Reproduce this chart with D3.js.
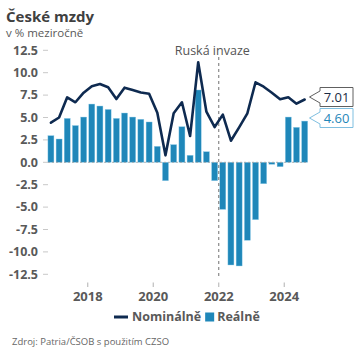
<!DOCTYPE html>
<html><head><meta charset="utf-8">
<script src="https://cdn.jsdelivr.net/npm/d3@7"></script>
<style>
body{margin:0;background:#fff;}
svg{display:block;font-family:"Open Sans",sans-serif;}
</style></head>
<body><svg id="c" width="360" height="360"></svg>
<script>
const quarters = ["2016Q4","2017Q1","2017Q2","2017Q3","2017Q4","2018Q1","2018Q2","2018Q3","2018Q4",
"2019Q1","2019Q2","2019Q3","2019Q4","2020Q1","2020Q2","2020Q3","2020Q4","2021Q1","2021Q2","2021Q3","2021Q4",
"2022Q1","2022Q2","2022Q3","2022Q4","2023Q1","2023Q2","2023Q3","2023Q4","2024Q1","2024Q2","2024Q3"];
const nominal = [4.42,5.0,7.25,6.7,7.77,8.5,8.74,8.37,7.06,8.33,8.07,7.8,7.66,5.54,0.78,5.47,6.7,2.93,11.16,5.65,3.93,
5.32,2.41,3.9,5.47,8.93,8.44,7.77,7.03,7.25,6.54,7.01];
const real = [2.97,2.6,4.9,4.1,5.05,6.5,6.28,5.9,4.9,5.5,5.05,4.8,4.5,1.78,-2.05,1.97,3.97,0.78,8.07,1.18,-2.05,
-5.25,-11.46,-11.57,-8.7,-6.4,-2.39,-0.22,-0.49,5.05,3.9,4.60];
const yTicks = [-12.5,-10,-7.5,-5,-2.5,0,2.5,5,7.5,10,12.5];
const xTickYears = [2018,2020,2022,2024];
const eventDate = "2022-01-01";
const eventLabel = "Ruská invaze";
const title = "České mzdy";
const subtitle = "v % meziročně";
const source = "Zdroj: Patria/ČSOB s použitím CZSO";
const seriesNames = ["Nominálně","Reálně"];

const cNom = "#0e2a50", cReal = "#1f87b9";
const svg = d3.select("#c");

function qMid(q){
  const y=+q.slice(0,4), n=+q.slice(5);
  const s=new Date(y,(n-1)*3,1), e=new Date(y,n*3,1);
  return new Date((s.getTime()+e.getTime())/2);
}
const data = quarters.map((q,i)=>({d:qMid(q),nom:nominal[i],real:real[i]}));

const x = d3.scaleTime().domain([new Date(2016,9,1),new Date(2024,9,1)]).range([46.8,308.8]);
const y = d3.scaleLinear().domain([-12.5,12.5]).range([274.3,50.3]);

// title
svg.append("text").attr("x",6).attr("y",22).attr("font-size",15).attr("font-weight",700).attr("fill","#404040").text(title);
svg.append("text").attr("x",6).attr("y",37).attr("font-size",11.5).attr("fill","#595959").text(subtitle);

// y axis
const fmt = v=>d3.format(".1f")(v).replace("−","-");
const ya = svg.append("g");
yTicks.forEach(t=>{
  ya.append("line").attr("x1",43).attr("x2",48).attr("y1",y(t)).attr("y2",y(t)).attr("stroke","#c8c8c8");
  ya.append("text").attr("x",38).attr("y",y(t)).attr("dy","0.35em").attr("text-anchor","end")
    .attr("font-size",12.5).attr("font-weight",700).attr("fill","#595959").text(fmt(t));
});

// x axis
xTickYears.forEach(yr=>{
  const xx=x(new Date(yr,0,1));
  svg.append("line").attr("x1",xx).attr("x2",xx).attr("y1",282.5).attr("y2",287).attr("stroke","#b0b0b0");
  svg.append("text").attr("x",xx).attr("y",301).attr("text-anchor","middle").attr("font-size",13)
    .attr("font-weight",700).attr("fill","#595959").text(yr);
});

// bars
const bw=6;
svg.append("g").selectAll("rect").data(data).join("rect")
  .attr("x",d=>x(d.d)-bw/2).attr("width",bw)
  .attr("y",d=>Math.min(y(d.real),y(0))).attr("height",d=>Math.abs(y(d.real)-y(0)))
  .attr("fill",cReal).attr("stroke","#8ccbe8").attr("stroke-width",0.4);

// zero line
svg.append("line").attr("x1",48).attr("x2",x(data[data.length-1].d)+3).attr("y1",y(0)).attr("y2",y(0))
  .attr("stroke","#a0a0a0").attr("stroke-dasharray","2,2").attr("stroke-width",0.8);

// event line
const ex=x(new Date(eventDate));
svg.append("line").attr("x1",ex).attr("x2",ex).attr("y1",57).attr("y2",278)
  .attr("stroke","#707070").attr("stroke-dasharray","3,3").attr("stroke-width",1);
svg.append("text").attr("x",ex-44).attr("y",55).attr("font-size",12.5).attr("fill","#555").text(eventLabel);

// nominal line
svg.append("path").datum(data).attr("fill","none").attr("stroke",cNom).attr("stroke-width",2.6)
  .attr("stroke-linejoin","round").attr("stroke-linecap","round")
  .attr("d",d3.line().x(d=>x(d.d)).y(d=>y(d.nom)));

// end labels
const last=data[data.length-1];
function callout(val,ty,border,tcol){
  const tip=309.5, L=320, R=353, h=19, t=ty-h/2, b=ty+h/2;
  const p=`M${L},${t}H${R}V${b}H${L}V${ty+6}L${tip},${ty}L${L},${ty-6}Z`;
  svg.append("path").attr("d",p).attr("fill","#fff").attr("stroke",border).attr("stroke-width",1);
  svg.append("text").attr("x",(L+R)/2).attr("y",ty).attr("dy","0.35em").attr("text-anchor","middle")
    .attr("font-size",13).attr("fill",tcol).text(val.toFixed(2));
}
callout(last.nom,97,"#606060","#1a2a44");
callout(last.real,118,"#7fbfe0","#1f87b9");

// legend
const lg=svg.append("g");
let lx=114;
lg.append("line").attr("x1",lx).attr("x2",lx+14).attr("y1",317).attr("y2",317).attr("stroke",cNom).attr("stroke-width",3);
const t1=lg.append("text").attr("x",lx+18).attr("y",321).attr("font-size",12.5).attr("font-weight",700).attr("fill","#595959").text(seriesNames[0]);
lx = lx+18+t1.node().getComputedTextLength()+4;
lg.append("rect").attr("x",lx).attr("y",312.5).attr("width",9).attr("height",9).attr("fill",cReal);
lg.append("text").attr("x",lx+12).attr("y",321).attr("font-size",12.5).attr("font-weight",700).attr("fill","#595959").text(seriesNames[1]);

// source
svg.append("text").attr("x",12).attr("y",345).attr("font-size",9.5).attr("fill","#666").text(source);
</script></body></html>
